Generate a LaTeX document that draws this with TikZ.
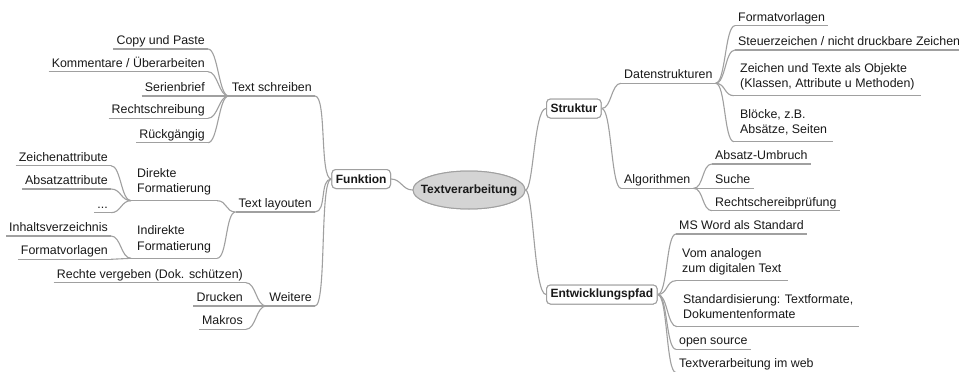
\documentclass[tikz,border=0pt]{standalone}
\usepackage{fontspec}
\setmainfont{Liberation Sans}
\usetikzlibrary{shapes.geometric}
\definecolor{branchgray}{RGB}{160,160,160}
\definecolor{rootfill}{RGB}{212,212,212}
\definecolor{inkgray}{RGB}{25,25,25}

\begin{document}
\begin{tikzpicture}[x=1pt, y=-1pt,
  every node/.style={font=\fontsize{12.4}{15.5}\selectfont, text=inkgray},
  topic/.style={inner xsep=3pt, inner ysep=2pt, text height=9pt, text depth=2.5pt},
  multitopic/.style={align=left, inner xsep=6pt, inner ysep=3.3pt, execute at end node=\strut},
  mainbox/.style={draw=branchgray, line width=1pt, rounded corners=4pt, fill=white,
    font=\bfseries\fontsize{12}{14}\selectfont, minimum height=19pt, inner xsep=4pt, inner ysep=0pt},
  root/.style={ellipse, draw=branchgray, fill=rootfill, line width=1pt, minimum width=112pt,
    minimum height=38pt, font=\bfseries\fontsize{12}{14}\selectfont, inner sep=0pt},
  branch/.style={draw=branchgray, line width=1.1pt},
]
\useasboundingbox (0,0) rectangle (959,372);
\fill[white] (0,0) rectangle (959,372);

% central topic and main branches (text boxed at zero width so the ellipse keeps its set size)
\node[root] (root) at (469,190) {\makebox[0pt]{Textverarbeitung}};
\node[mainbox, anchor=east] (fk) at (391,179) {Funktion};
\node[mainbox, anchor=west] (st) at (546,108.5) {Struktur};
\node[mainbox, anchor=west] (ep) at (546,294.5) {Entwicklungspfad};

% Funktion
\node[topic, anchor=south east] (ts) at (315,96) {Text schreiben};
\node[topic, anchor=south east] (tl) at (315,212) {Text layouten};
\node[topic, anchor=south east] (wt) at (315,306) {Weitere};

\node[topic, anchor=south east] (cp) at (208,49) {Copy und Paste};
\node[topic, anchor=south east] (ko) at (208,71.7) {Kommentare / Überarbeiten};
\node[topic, anchor=south east] (sb) at (208,96) {Serienbrief};
\node[topic, anchor=south east] (rs) at (208,118.3) {Rechtschreibung};
\node[topic, anchor=south east] (rg) at (208,142.7) {Rückgängig};

\node[multitopic, anchor=south west] (df) at (131,200.7) {Direkte\\Formatierung};
\node[multitopic, anchor=south west] (if) at (131,258.3) {Indirekte\\Formatierung};
\node[topic, anchor=south east] (za) at (111,165.7) {Zeichenattribute};
\node[topic, anchor=south east] (aa) at (111,189) {Absatzattribute};
\node[topic, anchor=south east] (dt) at (111,212.7) {...};
\node[topic, anchor=south east] (iv) at (111,236) {Inhaltsverzeichnis};
\node[topic, anchor=south east] (fa) at (111,259.3) {Formatvorlagen};

\node[topic, anchor=south east] (rv) at (246,282.7) {Rechte vergeben (Dok. schützen)};
\node[topic, anchor=south east] (dr) at (246,306) {Drucken};
\node[topic, anchor=south east] (mk) at (246,329.3) {Makros};

% Struktur
\node[topic, anchor=south west] (ds) at (621,83.3) {Datenstrukturen};
\node[topic, anchor=south west] (al) at (621,188.3) {Algorithmen};
\node[topic, anchor=south west] (fb) at (735,25.7) {Formatvorlagen};
\node[topic, anchor=south west] (sz) at (735,50) {Steuerzeichen / nicht druckbare Zeichen};
\node[multitopic, anchor=south west] (zt) at (734,95.7) {Zeichen und Texte als Objekte\\(Klassen, Attribute u Methoden)};
\node[multitopic, anchor=south west] (bl) at (734,141.7) {Blöcke, z.B.\\Absätze, Seiten};
\node[topic, anchor=south west] (au) at (712,164) {Absatz-Umbruch};
\node[topic, anchor=south west] (su) at (712,188.3) {Suche};
\node[topic, anchor=south west] (rp) at (712,210.7) {Rechtschereibprüfung};

% Entwicklungspfad
\node[topic, anchor=south west] (ms) at (676,234) {MS Word als Standard};
\node[multitopic, anchor=south west] (va) at (676,280.7) {Vom analogen\\zum digitalen Text};
\node[multitopic, anchor=south west] (sd) at (677,326.7) {Standardisierung: Textformate,\\Dokumentenformate};
\node[topic, anchor=south west] (os) at (676,349.3) {open source};
\node[topic, anchor=south west] (tw) at (676,372.6) {Textverarbeitung im web};

% underlines of the topics
\foreach \n in {ts,tl,wt,cp,ko,sb,rs,rg,df,if,za,aa,dt,iv,fa,rv,dr,mk,
                ds,al,fb,sz,zt,bl,au,su,rp,ms,va,sd,os,tw}
  \draw[branch] (\n.south west) -- (\n.south east);

% connectors from the central topic
\draw[branch] (root.west) .. controls +(-10,0) and +(10,0) .. (fk.east);
\draw[branch] (root.east) .. controls +(8,0) and +(-12,0) .. (st.west);
\draw[branch] (root.east) .. controls +(8,0) and +(-12,0) .. (ep.west);

% left side
\foreach \n in {ts,tl,wt}
  \draw[branch] (fk.west) .. controls +(-12,0) and +(12,0) .. (\n.south east);
\foreach \n in {cp,ko,sb,rs,rg}
  \draw[branch] (\n.south east) .. controls +(10,0) and +(-10,0) .. (ts.south west);
\foreach \n in {df,if}
  \draw[branch] (\n.south east) .. controls +(10,0) and +(-10,0) .. (tl.south west);
\foreach \n in {za,aa,dt}
  \draw[branch] (\n.south east) .. controls +(10,0) and +(-10,0) .. (df.south west);
\foreach \n in {iv,fa}
  \draw[branch] (\n.south east) .. controls +(10,0) and +(-10,0) .. (if.south west);
\foreach \n in {rv,dr,mk}
  \draw[branch] (\n.south east) .. controls +(10,0) and +(-10,0) .. (wt.south west);

% right side
\foreach \n in {ds,al}
  \draw[branch] (st.east) .. controls +(10,0) and +(-10,0) .. (\n.south west);
\foreach \n in {fb,sz,zt,bl}
  \draw[branch] (ds.south east) .. controls +(10,0) and +(-10,0) .. (\n.south west);
\foreach \n in {au,su,rp}
  \draw[branch] (al.south east) .. controls +(10,0) and +(-10,0) .. (\n.south west);
\foreach \n in {ms,va,sd,os,tw}
  \draw[branch] (ep.east) .. controls +(10,0) and +(-10,0) .. (\n.south west);

% boxes on top of their connectors
\node[root] at (root) {\makebox[0pt]{Textverarbeitung}};
\node[mainbox] at (fk) {Funktion};
\node[mainbox] at (st) {Struktur};
\node[mainbox] at (ep) {Entwicklungspfad};
\end{tikzpicture}
\end{document}
